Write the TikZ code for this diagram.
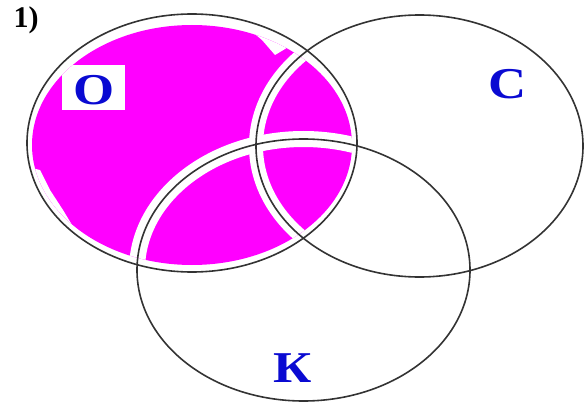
\documentclass[tikz,border=0pt]{standalone}
\usepackage{fontspec}
\setmainfont{Liberation Serif}
\usetikzlibrary{shapes.geometric}
\definecolor{fillmag}{RGB}{255,0,255}
\definecolor{labelblue}{RGB}{10,10,210}
\begin{document}
\begin{tikzpicture}[x=1pt,y=-1pt,
  ring/.style={draw=black!80,line width=1.6pt},
  setlabel/.style={text=labelblue,font=\fontsize{44}{46}\selectfont\bfseries,inner sep=0pt},
  band/.style={draw=white}]
\useasboundingbox (0,0) rectangle (587,404);
% magenta colouring of set O
\begin{scope}
  \clip (192,145) ellipse [x radius=160, y radius=120];
  \fill[fillmag] (0,0) rectangle (587,404);
  \draw[band,line width=14pt] (419.5,146) ellipse [x radius=163.5, y radius=131];
  \draw[band,line width=16pt] (303.5,270) ellipse [x radius=166.5, y radius=131];
  % ragged white corners
  \fill[white] (20,0) -- (125,0) -- (123,32) -- (97,45) -- (73,60) -- (52,85) -- (40,100) -- (20,110) -- cycle;
  \fill[white] (20,165) -- (40,170) -- (50,190) -- (63,210) -- (72,225) -- (95,245) -- (80,290) -- (20,290) -- cycle;
  \fill[white] (250,0) -- (250,30) -- (262,40) -- (275,55) -- (300,40) -- (300,0) -- cycle;
  \fill[white] (62,65) rectangle (125,110);
\end{scope}
% the three sets
\node[ring,ellipse,minimum width=330pt,minimum height=258pt] (O) at (192,143) {};
\node[ring,ellipse,minimum width=327pt,minimum height=262pt] (C) at (419.5,146) {};
\node[ring,ellipse,minimum width=333pt,minimum height=262pt] (K) at (303.5,270) {};
% labels
\node[font=\fontsize{30}{32}\selectfont\bfseries,inner sep=0pt] (num) at (26,20) {1)};
\node[setlabel] (lo) at (94,90) {\scalebox{1.2}[1]{О}};
\node[setlabel] (lc) at (508,84) {\scalebox{1.2}[1]{С}};
\node[setlabel] (lk) at (293,368) {\scalebox{1.2}[1]{К}};
\end{tikzpicture}
\end{document}
